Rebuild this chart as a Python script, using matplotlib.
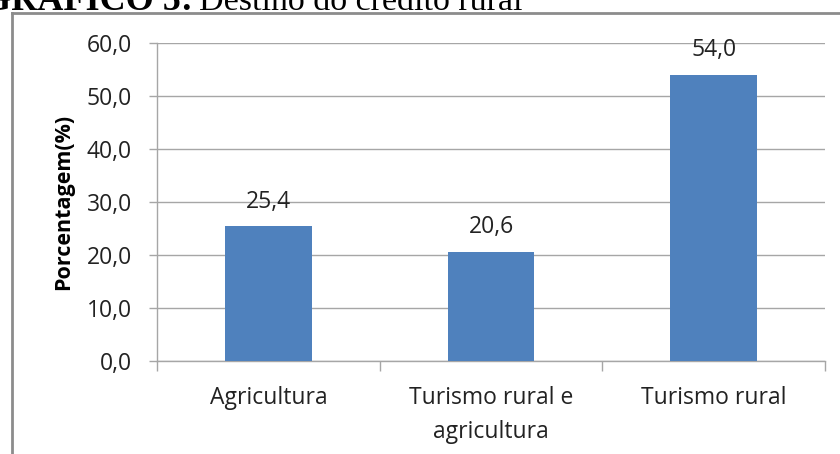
import matplotlib
matplotlib.use("Agg")
import matplotlib.pyplot as plt
from matplotlib.lines import Line2D

categorias = ["Agricultura", "Turismo rural e\nagricultura", "Turismo rural"]
valores = [25.4, 20.6, 54.0]
yticks = [0, 10, 20, 30, 40, 50, 60]

W, H = 840, 454
FONTE = "Open Sans"
TAM = 16.5
fig = plt.figure(figsize=(W / 100, H / 100), dpi=100)
fig.patch.set_facecolor("white")

# area do grafico
ax = fig.add_axes([157 / W, 1 - 361 / H, (825 - 157) / W, (361 - 43) / H])

x = list(range(len(categorias)))
ax.bar(x, valores, width=0.39, color="#4f81bd", zorder=3)

for xi, v in zip(x, valores):
    ax.annotate(f"{v:.1f}".replace(".", ","), (xi, v), xytext=(0, 9),
                textcoords="offset points", ha="center", va="bottom",
                fontsize=TAM, family=FONTE, color="#222222")

ax.set_xlim(-0.5, 2.5)
ax.set_ylim(0, 60)
ax.set_yticks(yticks)
ax.set_yticklabels([f"{t:.1f}".replace(".", ",") for t in yticks],
                   fontsize=TAM, family=FONTE, color="#222222")
ax.yaxis.grid(True, color="#a6a6a6", linewidth=1, zorder=0)

# ticks entre categorias, rotulos no centro
ax.set_xticks([-0.5, 0.5, 1.5, 2.5])
ax.set_xticklabels([])
ax.set_xticks(x, minor=True)
ax.set_xticklabels(categorias, minor=True, fontsize=TAM, family=FONTE,
                   color="#222222", linespacing=1.55)
ax.tick_params(axis="x", which="major", length=7, color="#a6a6a6", width=1)
ax.tick_params(axis="x", which="minor", length=0, pad=18)
ax.tick_params(axis="y", length=6, color="#a6a6a6", width=1, pad=12)

for s in ["top", "right"]:
    ax.spines[s].set_visible(False)
for s in ["left", "bottom"]:
    ax.spines[s].set_color("#a6a6a6")
    ax.spines[s].set_linewidth(1)

ax.set_ylabel("Porcentagem(%)", fontsize=15.5, fontweight="bold", family=FONTE)
ax.yaxis.set_label_coords(-0.124, 0.5)

# moldura do grafico
fig.add_artist(Line2D([12 / W, 1], [1 - 13 / H, 1 - 13 / H], color="#8c8c8c",
                      linewidth=2, transform=fig.transFigure))
fig.add_artist(Line2D([12 / W, 12 / W], [0, 1 - 13 / H], color="#8c8c8c",
                      linewidth=2, transform=fig.transFigure))

# titulo (cortado no topo, como no original)
fig.text(193 / W, 1 - 10 / H, "GRÁFICO 5:", ha="right", va="baseline",
         fontsize=26, fontweight="bold", family="Liberation Serif")
fig.text(199 / W, 1 - 10 / H, "Destino do crédito rural", ha="left",
         va="baseline", fontsize=24.5, family="Liberation Serif")

fig.savefig("out.png", dpi=100)
